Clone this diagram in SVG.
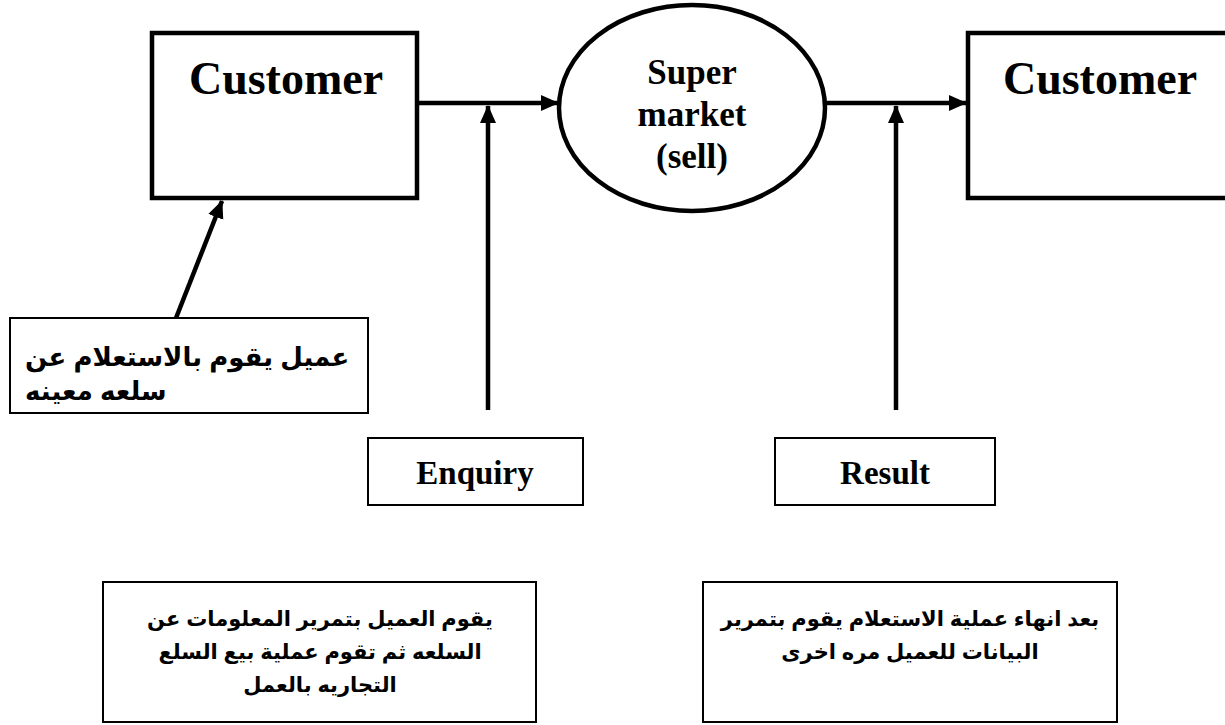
<svg xmlns="http://www.w3.org/2000/svg" width="1225" height="725" viewBox="0 0 1225 725">
<style>
.bx{fill:#fff;stroke:#000;stroke-width:4.5}
.tb{fill:#fff;stroke:#000;stroke-width:2}
.en{font-family:"Liberation Serif","Times New Roman",serif;font-weight:bold;fill:#000;text-anchor:middle}
.ar{font-family:"Liberation Sans","DejaVu Sans",sans-serif;font-weight:bold;fill:#000}
.cn{fill:none;stroke:#000;stroke-width:4.5}
</style>
<defs>
<marker id="ah" markerUnits="userSpaceOnUse" markerWidth="20" markerHeight="18" refX="17" refY="8" orient="auto">
<path d="M0,0 L18,8 L0,16 Z" fill="#000"/>
</marker>
</defs>
<rect width="1225" height="725" fill="#fff"/>
<g id="connectors">
<line class="cn" x1="417" y1="103" x2="558" y2="103" marker-end="url(#ah)"/>
<line class="cn" x1="488" y1="410" x2="488" y2="106" marker-end="url(#ah)"/>
<line class="cn" x1="824" y1="103" x2="966" y2="103" marker-end="url(#ah)"/>
<line class="cn" x1="896" y1="410" x2="896" y2="106" marker-end="url(#ah)"/>
<line class="cn" x1="176" y1="318" x2="222" y2="201" marker-end="url(#ah)"/>
</g>
<g id="customer-left">
<rect class="bx" x="152" y="33" width="265" height="165"/>
<text class="en" x="286" y="94" font-size="46">Customer</text>
</g>
<g id="supermarket">
<ellipse class="bx" cx="692" cy="108" rx="133" ry="103"/>
<text class="en" x="692" y="84" font-size="35">Super</text>
<text class="en" x="692" y="126" font-size="35">market</text>
<text class="en" x="692" y="168" font-size="35">(sell)</text>
</g>
<g id="customer-right">
<rect class="bx" x="968" y="33" width="270" height="165"/>
<text class="en" x="1100" y="94" font-size="46">Customer</text>
</g>
<g id="note-enquiry">
<rect class="tb" x="10" y="318" width="358" height="95"/>
<text class="ar" x="25" y="366" font-size="26">عميل يقوم بالاستعلام عن</text>
<text class="ar" x="25" y="400" font-size="26">سلعه معينه</text>
</g>
<g id="enquiry">
<rect class="tb" x="368" y="438" width="215" height="67"/>
<text class="en" x="475" y="484" font-size="33">Enquiry</text>
</g>
<g id="result">
<rect class="tb" x="775" y="438" width="220" height="67"/>
<text class="en" x="885" y="484" font-size="33">Result</text>
</g>
<g id="note-left">
<rect class="tb" x="103" y="582" width="433" height="140"/>
<text class="ar" x="320" y="626" font-size="21" text-anchor="middle">يقوم العميل بتمرير المعلومات عن</text>
<text class="ar" x="320" y="659" font-size="21" text-anchor="middle">السلعه ثم تقوم عملية بيع السلع</text>
<text class="ar" x="320" y="692" font-size="21" text-anchor="middle">التجاريه بالعمل</text>
</g>
<g id="note-right">
<rect class="tb" x="703" y="582" width="414" height="140"/>
<text class="ar" x="910" y="626" font-size="21" text-anchor="middle">بعد انهاء عملية الاستعلام يقوم بتمرير</text>
<text class="ar" x="910" y="659" font-size="21" text-anchor="middle">البيانات للعميل مره اخرى</text>
</g>
</svg>
